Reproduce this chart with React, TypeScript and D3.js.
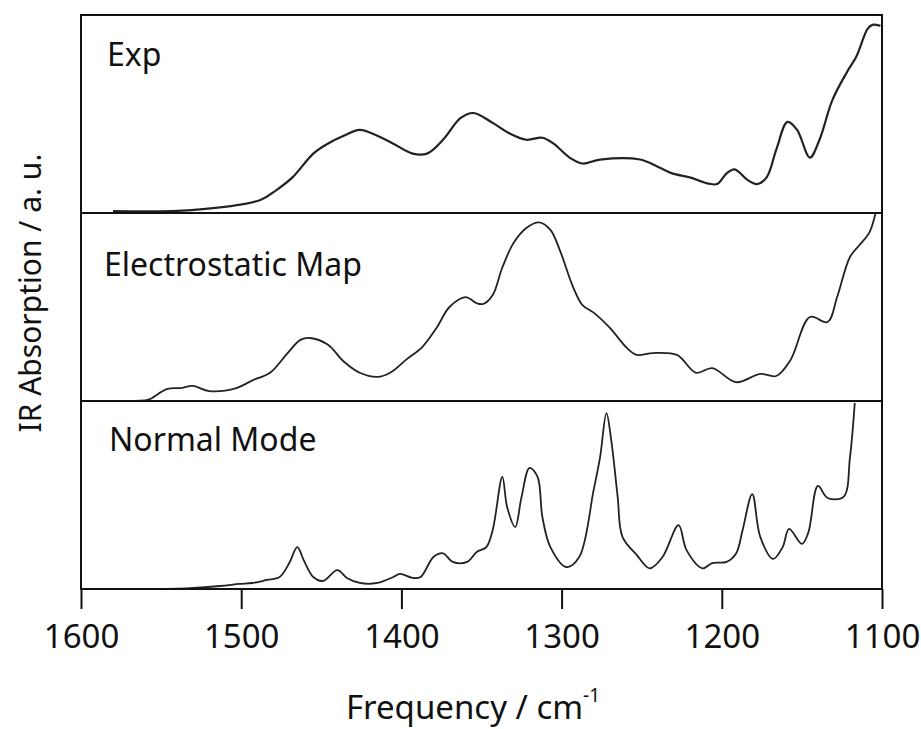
import React, { useEffect, useRef } from "react";
import * as d3 from "d3";

// Exp spectrum (frequency cm-1, absorbance a.u.)
const expFreq = [1580, 1531, 1488, 1478, 1468, 1455, 1446, 1436, 1426, 1415, 1405, 1393, 1384, 1374, 1363, 1355, 1343, 1332, 1322, 1312, 1305, 1295, 1287, 1276, 1251, 1239, 1231, 1220, 1209, 1203, 1197, 1192, 1184, 1178, 1172, 1166, 1159, 1153, 1145, 1139, 1131, 1122, 1116, 1109, 1106, 1101];
const expAbs = [0.01, 0.015, 0.066, 0.116, 0.18, 0.3, 0.35, 0.39, 0.42, 0.39, 0.35, 0.3, 0.3, 0.37, 0.48, 0.505, 0.455, 0.4, 0.37, 0.38, 0.35, 0.28, 0.25, 0.27, 0.27, 0.23, 0.2, 0.18, 0.15, 0.146, 0.2, 0.22, 0.167, 0.146, 0.18, 0.32, 0.46, 0.42, 0.28, 0.37, 0.57, 0.71, 0.79, 0.93, 0.95, 0.945];

// Electrostatic map spectrum
const esmFreq = [1580, 1559, 1557, 1546, 1538, 1530, 1520, 1503, 1493, 1482, 1471, 1463, 1457, 1446, 1436, 1426, 1415, 1407, 1397, 1387, 1378, 1370, 1360, 1353, 1349, 1343, 1337, 1330, 1322, 1314, 1307, 1301, 1293, 1287, 1280, 1270, 1259, 1253, 1243, 1228, 1216, 1206, 1191, 1176, 1166, 1157, 1145, 1134, 1128, 1120, 1114, 1108, 1104];
const esmAbs = [0, 0.005, 0.01, 0.064, 0.069, 0.08, 0.053, 0.069, 0.11, 0.15, 0.255, 0.325, 0.335, 0.3, 0.21, 0.15, 0.128, 0.15, 0.22, 0.287, 0.39, 0.5, 0.553, 0.52, 0.516, 0.564, 0.71, 0.84, 0.92, 0.95, 0.91, 0.8, 0.61, 0.51, 0.47, 0.39, 0.28, 0.245, 0.255, 0.245, 0.15, 0.175, 0.1, 0.144, 0.133, 0.22, 0.447, 0.42, 0.553, 0.766, 0.83, 0.894, 1.0];

// Normal mode spectrum
const nmFreq = [1560, 1532, 1513, 1501, 1493, 1484, 1476, 1470, 1465, 1461, 1455, 1449, 1440, 1434, 1426, 1415, 1405, 1401, 1393, 1388, 1380, 1374, 1368, 1359, 1353, 1347, 1343, 1337, 1334, 1329, 1325, 1320, 1315, 1312, 1307, 1297, 1289, 1280, 1276, 1272, 1269, 1265, 1262, 1253, 1245, 1237, 1227, 1222, 1212, 1206, 1197, 1191, 1187, 1181, 1176, 1168, 1162, 1158, 1150, 1146, 1140, 1134, 1124, 1120, 1117];
const nmAbs = [0, 0.005, 0.016, 0.027, 0.032, 0.048, 0.064, 0.138, 0.223, 0.154, 0.064, 0.043, 0.1, 0.059, 0.032, 0.032, 0.064, 0.08, 0.059, 0.064, 0.17, 0.19, 0.144, 0.144, 0.197, 0.223, 0.314, 0.596, 0.436, 0.33, 0.49, 0.644, 0.596, 0.383, 0.223, 0.117, 0.17, 0.527, 0.7, 0.936, 0.79, 0.49, 0.277, 0.18, 0.11, 0.17, 0.34, 0.207, 0.11, 0.138, 0.144, 0.19, 0.314, 0.505, 0.277, 0.16, 0.223, 0.32, 0.24, 0.3, 0.548, 0.484, 0.49, 0.7, 0.99];

const panelLabels = ["Exp", "Electrostatic Map", "Normal Mode"];
const freqTicks = [1600, 1500, 1400, 1300, 1200, 1100];

const W = 921;
const H = 729;
const font = "'Noto Sans', sans-serif";

function App() {
  const ref = useRef<SVGSVGElement>(null);

  useEffect(() => {
    const svg = d3.select(ref.current);
    svg.selectAll("*").remove();

    const x = d3.scaleLinear().domain([1600, 1100]).range([81, 882]);

    const panels = [
      { top: 15, bottom: 213, freq: expFreq, abs: expAbs, width: 2.2, lx: 107, ly: 66 },
      { top: 213, bottom: 401, freq: esmFreq, abs: esmAbs, width: 1.8, lx: 104, ly: 276 },
      { top: 401, bottom: 589, freq: nmFreq, abs: nmAbs, width: 1.8, lx: 109, ly: 451 },
    ];

    panels.forEach((p, i) => {
      const y = d3.scaleLinear().domain([0, 1]).range([p.bottom, p.top]);
      const pts = p.freq.map((f, j) => [f, p.abs[j]] as [number, number]);
      const line = d3
        .line<[number, number]>()
        .x(d => x(d[0]))
        .y(d => y(d[1]))
        .curve(d3.curveCatmullRom.alpha(0.5));

      svg
        .append("path")
        .attr("d", line(pts))
        .attr("fill", "none")
        .attr("stroke", "#222")
        .attr("stroke-width", p.width)
        .attr("stroke-linejoin", "round");

      svg
        .append("text")
        .attr("x", p.lx)
        .attr("y", p.ly)
        .attr("font-family", font)
        .attr("font-size", 32)
        .attr("fill", "#111")
        .text(panelLabels[i]);

      // panel frame
      svg
        .append("rect")
        .attr("x", 81)
        .attr("y", p.top)
        .attr("width", 882 - 81)
        .attr("height", p.bottom - p.top)
        .attr("fill", "none")
        .attr("stroke", "#111")
        .attr("stroke-width", 2);
    });

    const axis = svg
      .append("g")
      .attr("transform", "translate(0,589)")
      .call(
        d3
          .axisBottom(x)
          .tickValues(freqTicks)
          .tickSize(20)
          .tickPadding(16)
          .tickFormat(d3.format("d"))
      );
    axis.select(".domain").remove();
    axis.selectAll("line").attr("stroke", "#111").attr("stroke-width", 2);
    axis
      .selectAll("text")
      .attr("font-family", font)
      .attr("font-size", 33)
      .attr("fill", "#111");

    const title = svg
      .append("text")
      .attr("x", 473)
      .attr("y", 719)
      .attr("text-anchor", "middle")
      .attr("font-family", font)
      .attr("font-size", 33)
      .attr("fill", "#111");
    title.append("tspan").text("Frequency / cm");
    title
      .append("tspan")
      .attr("dy", -17)
      .attr("font-size", 19)
      .text("-1");

    svg
      .append("text")
      .attr("transform", "translate(41,293) rotate(-90)")
      .attr("text-anchor", "middle")
      .attr("font-family", font)
      .attr("font-size", 30)
      .attr("fill", "#111")
      .text("IR Absorption / a. u.");
  }, []);

  return (
    <svg
      ref={ref}
      width={W}
      height={H}
      style={{ position: "absolute", left: 0, top: 0, background: "#fff" }}
    />
  );
}

export default App;
